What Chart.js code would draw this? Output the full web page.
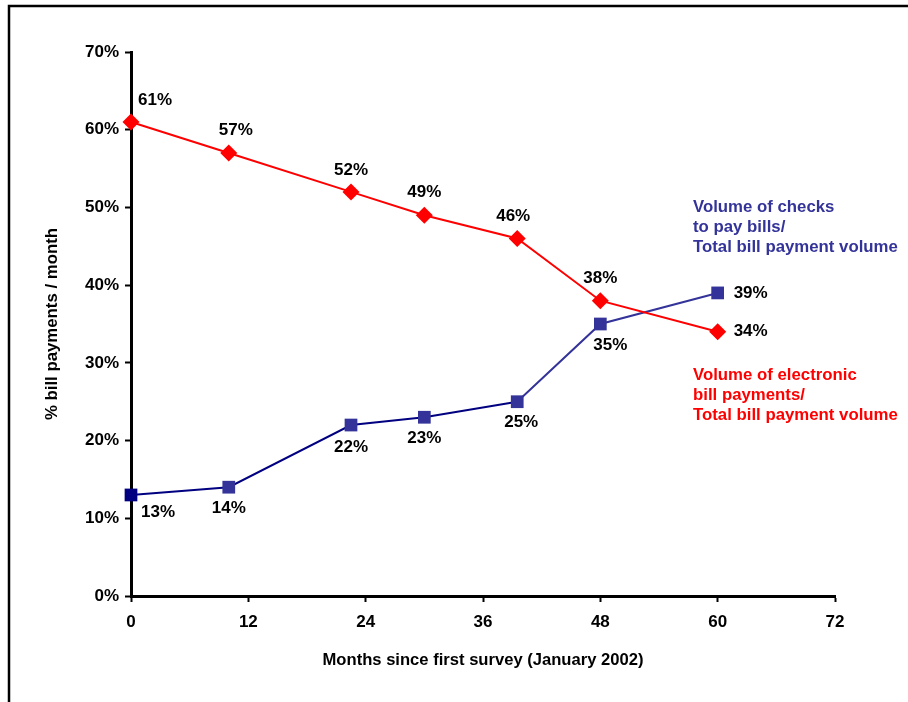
<!DOCTYPE html>
<html>
<head>
<meta charset="utf-8">
<script src="https://cdn.jsdelivr.net/npm/chart.js@4/dist/chart.umd.min.js"></script>
<style>
  html, body { margin: 0; padding: 0; background: #fff; }
  #wrap { width: 908px; height: 702px; position: relative; }
</style>
</head>
<body>
<div id="wrap"><canvas id="billChart"></canvas></div>
<script>
const months = [0, 10, 22.5, 30, 39.5, 48, 60];
const electronicShare = [61, 57, 52, 49, 46, 38, 34];
const checkShare = [13, 14, 22, 23, 25, 35, 39];
const xTicks = [0, 12, 24, 36, 48, 60, 72];
const yTicks = [0, 10, 20, 30, 40, 50, 60, 70];

const checkNote = ['Volume of checks', 'to pay bills/', 'Total bill payment volume'];
const electronicNote = ['Volume of electronic', 'bill payments/', 'Total bill payment volume'];

const RED = '#FF0000';
const NAVY = '#000080';
const BLUE = '#333399';
const FONT = '"Liberation Sans", Arial, sans-serif';

// where each value label sits relative to its point
const redLabelOffsets = [[24, -22], [7, -23], [0, -22], [0, -23], [-4, -22], [0, -22], [32, 0]];
const blueLabelOffsets = [[27, 17], [0, 21], [0, 22], [0, 21], [4, 21], [10, 21], [32, 0]];

const toPoints = (xs, ys) => xs.map((x, i) => ({ x: x, y: ys[i] }));

const frame = {
    id: 'frame',
    beforeDraw(chart) {
        const ctx = chart.ctx;
        ctx.save();
        ctx.strokeStyle = '#000';
        ctx.lineWidth = 2.5;
        ctx.beginPath();
        ctx.moveTo(9, 702);
        ctx.lineTo(9, 6);
        ctx.lineTo(908, 6);
        ctx.stroke();
        ctx.restore();
    }
};

const valueLabels = {
    id: 'valueLabels',
    afterDatasetsDraw(chart) {
        const ctx = chart.ctx;
        ctx.save();
        ctx.font = 'bold 17px ' + FONT;
        ctx.fillStyle = '#000';
        ctx.textBaseline = 'middle';
        chart.data.datasets.forEach((ds, di) => {
            const offsets = di === 0 ? redLabelOffsets : blueLabelOffsets;
            chart.getDatasetMeta(di).data.forEach((pt, i) => {
                const [dx, dy] = offsets[i];
                const text = ds.data[i].y + '%';
                // labels pushed out sideways start after the marker
                if (dy === 0) {
                    ctx.textAlign = 'left';
                    ctx.fillText(text, pt.x + dx - 16, pt.y + dy);
                } else {
                    ctx.textAlign = 'center';
                    ctx.fillText(text, pt.x + dx, pt.y + dy);
                }
            });
        });
        ctx.restore();
    }
};

const notes = {
    id: 'notes',
    afterDraw(chart) {
        const ctx = chart.ctx;
        ctx.save();
        ctx.font = 'bold 16.8px ' + FONT;
        ctx.textAlign = 'left';
        ctx.textBaseline = 'middle';
        ctx.fillStyle = BLUE;
        checkNote.forEach((line, i) => ctx.fillText(line, 693, 207 + i * 20));
        ctx.fillStyle = RED;
        electronicNote.forEach((line, i) => ctx.fillText(line, 693, 375 + i * 20));
        ctx.restore();
    }
};

new Chart(document.getElementById('billChart'), {
    type: 'line',
    data: {
        datasets: [
            {
                label: 'Electronic bill payments',
                data: toPoints(months, electronicShare),
                borderColor: RED,
                borderWidth: 2,
                pointStyle: 'rectRot',
                pointRadius: 8.5,
                pointBackgroundColor: RED,
                pointBorderColor: RED,
                pointBorderWidth: 0,
                clip: false,
                order: 0
            },
            {
                label: 'Checks to pay bills',
                data: toPoints(months, checkShare),
                borderColor: BLUE,
                borderWidth: 2,
                segment: {
                    borderColor: c => c.p0DataIndex < 4 ? NAVY : BLUE
                },
                pointStyle: 'rect',
                pointRadius: 9,
                pointBackgroundColor: [NAVY, BLUE, BLUE, BLUE, BLUE, BLUE, BLUE],
                pointBorderColor: [NAVY, BLUE, BLUE, BLUE, BLUE, BLUE, BLUE],
                pointBorderWidth: 0,
                clip: false,
                order: 1
            }
        ]
    },
    options: {
        responsive: true,
        maintainAspectRatio: false,
        animation: false,
        layout: { padding: { top: 52, right: 73, bottom: 0, left: 0 } },
        plugins: {
            legend: { display: false },
            tooltip: { enabled: false }
        },
        scales: {
            x: {
                type: 'linear',
                min: 0,
                max: 72,
                afterFit(scale) { scale.height = 106; },
                afterBuildTicks(scale) { scale.ticks = xTicks.map(v => ({ value: v })); },
                border: { display: true, color: '#000', width: 3 },
                grid: { drawOnChartArea: false, drawTicks: true, tickLength: 6, tickColor: '#000', tickWidth: 2 },
                ticks: { color: '#000', padding: 10, font: { family: FONT, size: 17, weight: 'bold' } },
                title: {
                    display: true,
                    text: 'Months since first survey (January 2002)',
                    color: '#000',
                    font: { family: FONT, size: 16.6, weight: 'bold' },
                    padding: { top: 0, bottom: 32 }
                }
            },
            y: {
                min: 0,
                max: 70,
                afterFit(scale) { scale.width = 131; },
                afterBuildTicks(scale) { scale.ticks = yTicks.map(v => ({ value: v })); },
                border: { display: true, color: '#000', width: 3 },
                grid: { drawOnChartArea: false, drawTicks: true, tickLength: 6, tickColor: '#000', tickWidth: 2 },
                ticks: {
                    color: '#000',
                    padding: 6,
                    font: { family: FONT, size: 17, weight: 'bold' },
                    callback: v => v + '%'
                },
                title: {
                    display: true,
                    text: '% bill payments / month',
                    color: '#000',
                    font: { family: FONT, size: 16.8, weight: 'bold' },
                    padding: { top: 42, bottom: 0 }
                }
            }
        }
    },
    plugins: [frame, valueLabels, notes]
});
</script>
</body>
</html>
